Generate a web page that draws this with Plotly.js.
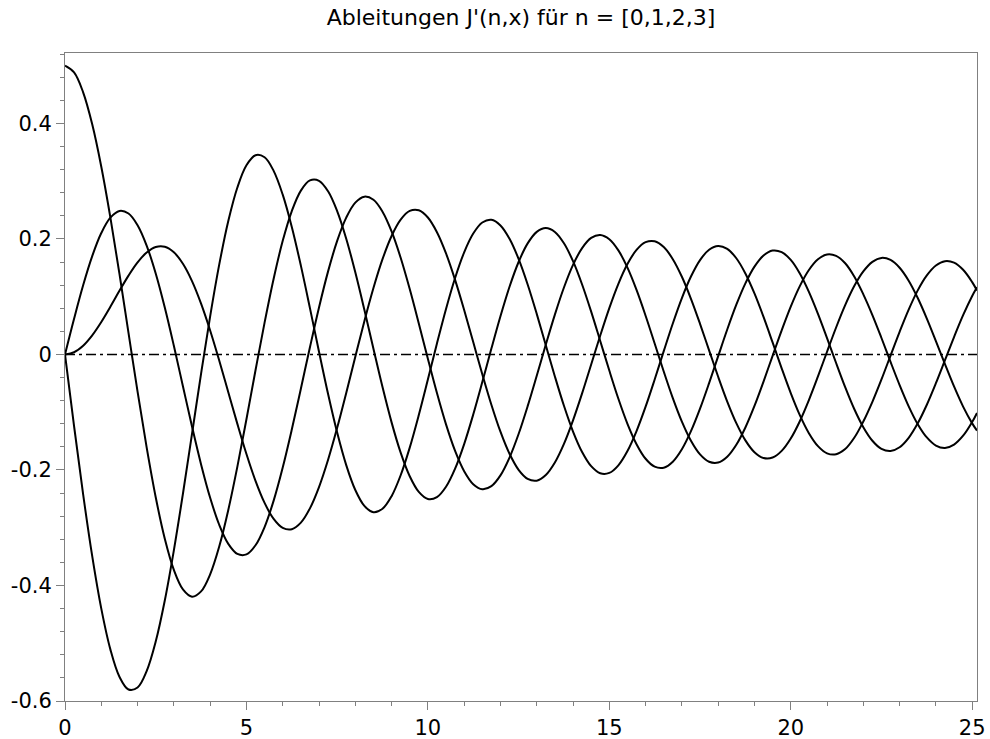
<!DOCTYPE html>
<html>
<head>
<meta charset="utf-8">
<script src="https://cdn.plot.ly/plotly-3.0.1.min.js"></script>
<style>html,body{margin:0;padding:0;background:#fff;}#chart{width:990px;height:739px;}</style>
</head>
<body>
<div id="chart"></div>
<script>
const xs = [0,0.25,0.5,0.75, 1,1.25,1.5,1.75, 2,2.25,2.5,2.75, 3,3.25,3.5,3.75, 4,4.25,4.5,4.75,
  5,5.25,5.5,5.75, 6,6.25,6.5,6.75, 7,7.25,7.5,7.75, 8,8.25,8.5,8.75, 9,9.25,9.5,9.75,
  10,10.25,10.5,10.75, 11,11.25,11.5,11.75, 12,12.25,12.5,12.75, 13,13.25,13.5,13.75, 14,14.25,14.5,14.75,
  15,15.25,15.5,15.75, 16,16.25,16.5,16.75, 17,17.25,17.5,17.75, 18,18.25,18.5,18.75, 19,19.25,19.5,19.75,
  20,20.25,20.5,20.75, 21,21.25,21.5,21.75, 22,22.25,22.5,22.75, 23,23.25,23.5,23.75, 24,24.25,24.5,24.75,
  25,25.1327];

const dJ0 = [0,-0.12401,-0.24227,-0.34921, -0.44005,-0.51058,-0.55794,-0.58010, -0.57672,-0.54833,-0.49709,-0.42595,
  -0.33906,-0.24111,-0.13738,-0.03325, 0.06604,0.15552,0.23106,0.28914, 0.32758,0.34497,0.34144,0.31791,
  0.27668,0.22070,0.15384,0.08032, 0.00468,-0.06857,-0.13525,-0.19157, -0.23464,-0.26216,-0.27312,-0.26718,
  -0.24531,-0.20912,-0.16126,-0.10483, -0.04347,0.01901,0.07885,0.13245, 0.17679,0.20933,0.22845,0.23308,
  0.22345,0.20033,0.16548,0.12116, 0.07032,0.01613,-0.03805,-0.08888, -0.13338,-0.16887,-0.19344,-0.20565,
  -0.20510,-0.19192,-0.16721,-0.13259, -0.09040,-0.04329,0.00577,0.05372, 0.09767,0.13495,0.16342,0.18139,
  0.18799,0.18288,0.16663,0.14030, 0.10570,0.06502,0.02087,-0.02400, -0.06683,-0.10500,-0.13626,-0.15873,
  -0.17119,-0.17283,-0.16385,-0.14429, -0.11605,-0.08200,-0.04324,-0.00185, 0.03919,0.07766,0.11095,0.13684,
  0.15404,0.16151,0.15898,0.14661, 0.12535,0.11088];

const dJ1 = [0.5,0.48829,0.45393,0.39855, 0.32515,0.23739,0.13987,0.03752, -0.06447,-0.16095,-0.24722,-0.31900,
  -0.37307,-0.40690,-0.41938,-0.41022, -0.38064,-0.33257,-0.26919,-0.19423, -0.11208,-0.02737,0.05524,0.13124,
  0.19676,0.24836,0.28376,0.30132, 0.30075,0.28250,0.24831,0.20050, 0.14232,0.07743,0.00981,-0.05647,
  -0.11759,-0.17000,-0.21090,-0.23805, -0.25029,-0.24708,-0.22913,-0.19772, -0.15512,-0.10404,-0.04778,0.01018,
  0.06631,0.11727,0.16012,0.19236, 0.21234,0.21895,0.21216,0.19252, 0.16154,0.12122,0.07421,0.02345,
  -0.02789,-0.07668,-0.12002,-0.15529, -0.18055,-0.19432,-0.19603,-0.18566, -0.16410,-0.13277,-0.09377,-0.04956,
  -0.00292,0.04326,0.08617,0.12319, 0.15219,0.17142,0.17992,0.17720, 0.16368,0.14022,0.10845,0.07037,
  0.02842,-0.01478,-0.05656,-0.09441, -0.12592,-0.14933,-0.16346,-0.16718, -0.16066,-0.14430,-0.11921,-0.08701,
  -0.04981,-0.00991,0.03019,0.06801, 0.10128,0.11638];

const dJ2 = [0,0.06185,0.11985,0.17036, 0.21025,0.23685,0.24849,0.24412, 0.22389,0.18862,0.14025,0.08128,
  0.01500,-0.05496,-0.12470,-0.19030, -0.24811,-0.29482,-0.32788,-0.34531, -0.34621,-0.33038,-0.29878,-0.25302,
  -0.19572,-0.12992,-0.05925,0.01249, 0.08144,0.14389,0.19666,0.23694, 0.26289,0.27323,0.26787,0.24730,
  0.21313,0.16748,0.11329,0.05380, -0.00746,-0.06687,-0.12107,-0.16694, -0.20207,-0.22452,-0.23331,-0.22799,
  -0.20930,-0.17852,-0.13774,-0.08950, -0.03682,0.01712,0.06907,0.11595, 0.15510,0.18422,0.20184,0.20695,
  0.19956,0.18021,0.15033,0.11180, 0.06713,0.01904,-0.02949,-0.07551, -0.11630,-0.14943,-0.17307,-0.18583,
  -0.18716,-0.17704,-0.15634,-0.12636, -0.08910,-0.04687,-0.00231,0.04182, 0.08287,0.11835,0.14620,0.16478,
  0.17312,0.17068,0.15788,0.13500, 0.10413,0.06825,0.02854,-0.01286, -0.05301,-0.08979,-0.12070,-0.14368,
  -0.15766,-0.16179,-0.15599,-0.14064, -0.11685,-0.10127];

const dJ3 = [0,0.00388,0.01522,0.03314, 0.05621,0.08260,0.11013,0.13653, 0.15942,0.17657,0.18614,0.18658,
  0.17703,0.15708,0.12712,0.08804, 0.04150,-0.01047,-0.06529,-0.12021, -0.17233,-0.21879,-0.25702,-0.28471,
  -0.30026,-0.30248,-0.29112,-0.26643, -0.22961,-0.18234,-0.12705,-0.06649, -0.00381,0.05774,0.11501,0.16499,
  0.20516,0.23343,0.24851,0.24966, 0.23712,0.21166,0.17497,0.12919, 0.07705,0.02152,-0.03421,-0.08692,
  -0.13372,-0.17200,-0.19976,-0.21547, -0.21852,-0.20877,-0.18710,-0.15486, -0.11413,-0.06736,-0.01738,0.03285,
  0.08037,0.12242,0.15664,0.18104, 0.19442,0.19603,0.18601,0.16503, 0.13455,0.09644,0.05311,0.00717,
  -0.03859,-0.08143,-0.11886,-0.14867, -0.16921,-0.17928,-0.17849,-0.16693, -0.14551,-0.11553,-0.07896,-0.03802,
  0.00474,0.04670,0.08538,0.11839, 0.14378,0.16037,0.16723,0.16364, 0.15024,0.12781,0.09784,0.06224,
  0.02323,-0.01681,-0.05542,-0.09026, -0.11930,-0.13173];

const zeroX = [0, 25.1327];
const zeroY = [0, 0];

const yTickVals = [-0.6,-0.4,-0.2,0,0.2,0.4];
const yTickText = ["-0.6","-0.4","-0.2","0","0.2","0.4"];
const xTickVals = [0,5,10,15,20,25];
const xTickText = ["0","5","10","15","20","25"];

const titleText = "Ableitungen J'(n,x) für n = [0,1,2,3]";

const curveLine = {color:'#000000', width:2, shape:'spline', smoothing:1};
const series = [dJ0, dJ1, dJ2, dJ3];
const traces = [{
  x: zeroX, y: zeroY, type:'scatter', mode:'lines',
  line:{color:'#000000', width:1.5, dash:'10px,4px,3px,4px'},
  hoverinfo:'skip', showlegend:false
}];
series.forEach(s => traces.push({x: xs, y: s, type:'scatter', mode:'lines', line: curveLine, hoverinfo:'skip', showlegend:false}));

const fontFam = 'DejaVu Sans, Liberation Sans, Arial, sans-serif';
const layout = {
  width: 990, height: 739,
  margin: {l:65, r:13, t:53, b:38},
  paper_bgcolor:'#ffffff', plot_bgcolor:'#ffffff',
  showlegend:false,
  title: {text: titleText, font:{family: fontFam, size:22, color:'#000000'},
          x:0.5, xref:'paper', xanchor:'center', y: 1 - 17/739, yref:'container', yanchor:'middle'},
  xaxis: {
    range:[0, 25.1327], showgrid:false, zeroline:false,
    showline:true, linecolor:'#808080', linewidth:1, mirror:true,
    ticks:'outside', ticklen:8, tickwidth:1, tickcolor:'#808080',
    tickmode:'array', tickvals:xTickVals, ticktext:xTickText,
    tickfont:{family: fontFam, size:21, color:'#000000'},
    minor:{tickmode:'linear', tick0:0, dtick:1, ticks:'outside', ticklen:4, tickwidth:1, tickcolor:'#808080', showgrid:false}
  },
  yaxis: {
    range:[-0.6, 0.522], showgrid:false, zeroline:false,
    showline:true, linecolor:'#808080', linewidth:1, mirror:true,
    ticks:'outside', ticklen:8, tickwidth:1, tickcolor:'#808080',
    tickmode:'array', tickvals:yTickVals, ticktext:yTickText,
    tickfont:{family: fontFam, size:21, color:'#000000'},
    minor:{tickmode:'linear', tick0:0, dtick:0.04, ticks:'outside', ticklen:4, tickwidth:1, tickcolor:'#808080', showgrid:false}
  }
};

Plotly.newPlot('chart', traces, layout, {staticPlot:true, displayModeBar:false});
</script>
</body>
</html>
